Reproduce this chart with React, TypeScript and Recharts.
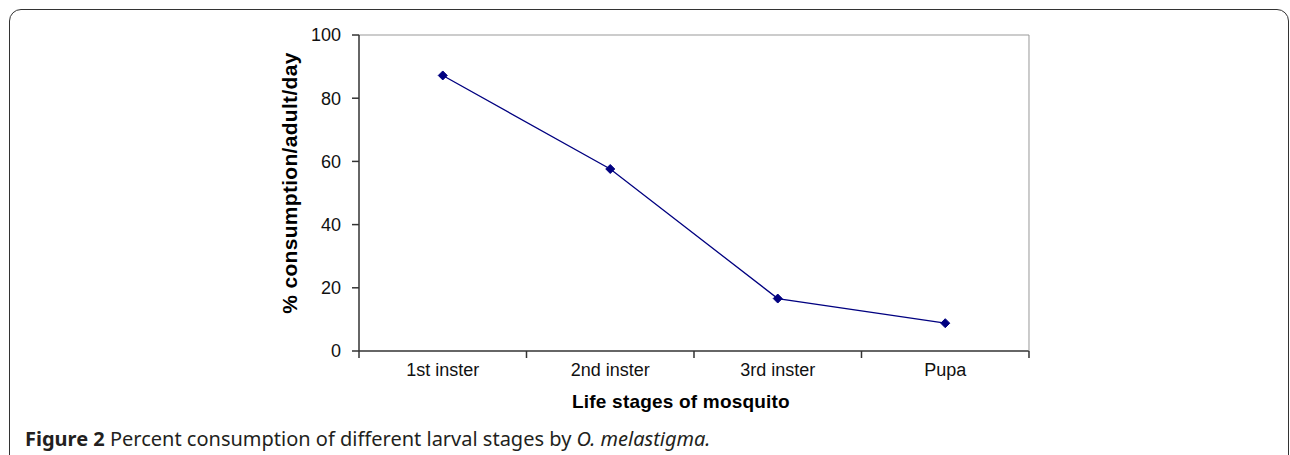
import React from "react";
import { LineChart, Line, XAxis, YAxis } from "recharts";

const stages = ["1st inster", "2nd inster", "3rd inster", "Pupa"];
const consumption = [87.2, 57.6, 16.6, 8.8];
const yTicks = [0, 20, 40, 60, 80, 100];

const data = stages.map((stage, i) => ({ stage, value: consumption[i] }));

const NAVY = "#000080";
const AXIS = "#333";
const FONT = '"Liberation Sans", Arial, sans-serif';
const X_TICK_SIZE = 7;
const X_TICK_MARGIN = 5;

function Diamond(props: any) {
  const { cx, cy, index } = props;
  if (cx == null || cy == null) return <g key={index} />;
  const r = 4.5;
  return (
    <polygon
      key={index}
      points={`${cx},${cy - r} ${cx + r},${cy} ${cx},${cy + r} ${cx - r},${cy}`}
      fill={NAVY}
      stroke={NAVY}
    />
  );
}

// Excel-style category axis: tick marks sit between the categories, labels in the middle
function StageTick(props: any) {
  const { x, y, payload, index, width, visibleTicksCount } = props;
  const count = visibleTicksCount || stages.length;
  const band = width / count;
  const top = y - X_TICK_MARGIN - X_TICK_SIZE;
  const edges = [x - band / 2];
  if (index === count - 1) edges.push(x + band / 2);
  return (
    <g>
      {edges.map((ex) => (
        <line key={ex} x1={ex} x2={ex} y1={top} y2={top + X_TICK_SIZE} stroke={AXIS} strokeWidth={1.5} />
      ))}
      <text x={x} y={y} dy="0.71em" textAnchor="middle" fill="#111" fontSize={18} fontFamily={FONT}>
        {payload.value}
      </text>
    </g>
  );
}

// y title sits a little above the plot centre in the original
function YTitle(props: any) {
  const { viewBox } = props;
  const x = viewBox.x - 9;
  const y = viewBox.y + viewBox.height / 2 - 10;
  return (
    <text
      x={x}
      y={y}
      transform={`rotate(-90, ${x}, ${y})`}
      textAnchor="middle"
      dominantBaseline="central"
      fill="#000"
      fontSize={21}
      fontWeight={700}
      fontFamily={FONT}
      letterSpacing={0.3}
    >
      % consumption/adult/day
    </text>
  );
}

function XTitle(props: any) {
  const { viewBox } = props;
  const x = viewBox.x + viewBox.width / 2 - 13;
  const y = viewBox.y + viewBox.height + 27;
  return (
    <text x={x} y={y} textAnchor="middle" fill="#000" fontSize={19} fontWeight={700} fontFamily={FONT} letterSpacing={0.2}>
      Life stages of mosquito
    </text>
  );
}

export default function App() {
  return (
    <div style={{ position: "absolute", left: 0, top: 0, width: 1290, height: 455, overflow: "hidden", background: "#fff" }}>
      <div
        style={{
          position: "absolute",
          left: 9,
          top: 9,
          width: 1280,
          height: 470,
          border: "1.5px solid #333",
          borderRadius: 12,
          boxSizing: "border-box",
        }}
      />
      <div style={{ position: "absolute", left: 0, top: 0 }}>
        <LineChart
          width={1290}
          height={455}
          data={data}
          margin={{ top: 35, right: 261, bottom: 74, left: 299 }}
        >
          <XAxis
            dataKey="stage"
            height={30}
            padding={{ left: 83.75, right: 83.75 }}
            axisLine={{ stroke: AXIS, strokeWidth: 1.5 }}
            tickLine={false}
            tickSize={X_TICK_SIZE}
            tickMargin={X_TICK_MARGIN}
            interval={0}
            tick={<StageTick />}
            label={<XTitle />}
          />
          <XAxis xAxisId="top" orientation="top" height={0.01} tick={false} tickLine={false} axisLine={{ stroke: "#999" }} />
          <YAxis
            domain={[0, 100]}
            ticks={yTicks}
            width={60}
            axisLine={{ stroke: AXIS, strokeWidth: 1.5 }}
            tickLine={{ stroke: AXIS, strokeWidth: 1.5 }}
            tickSize={7}
            tickMargin={11}
            tick={{ fill: "#111", fontSize: 18, fontFamily: FONT }}
            label={<YTitle />}
          />
          <YAxis yAxisId="right" orientation="right" width={0.01} tick={false} tickLine={false} axisLine={{ stroke: "#999" }} />
          <Line
            dataKey="value"
            stroke={NAVY}
            strokeWidth={1.3}
            dot={Diamond}
            activeDot={false}
            isAnimationActive={false}
          />
        </LineChart>
      </div>
      <div
        style={{
          position: "absolute",
          left: 25,
          top: 427,
          fontFamily: '"Noto Sans", sans-serif',
          fontSize: 20,
          color: "#231f20",
          whiteSpace: "nowrap",
          lineHeight: "24px",
        }}
      >
        <b>Figure 2</b> Percent consumption of different larval stages by <i>O. melastigma.</i>
      </div>
    </div>
  );
}
